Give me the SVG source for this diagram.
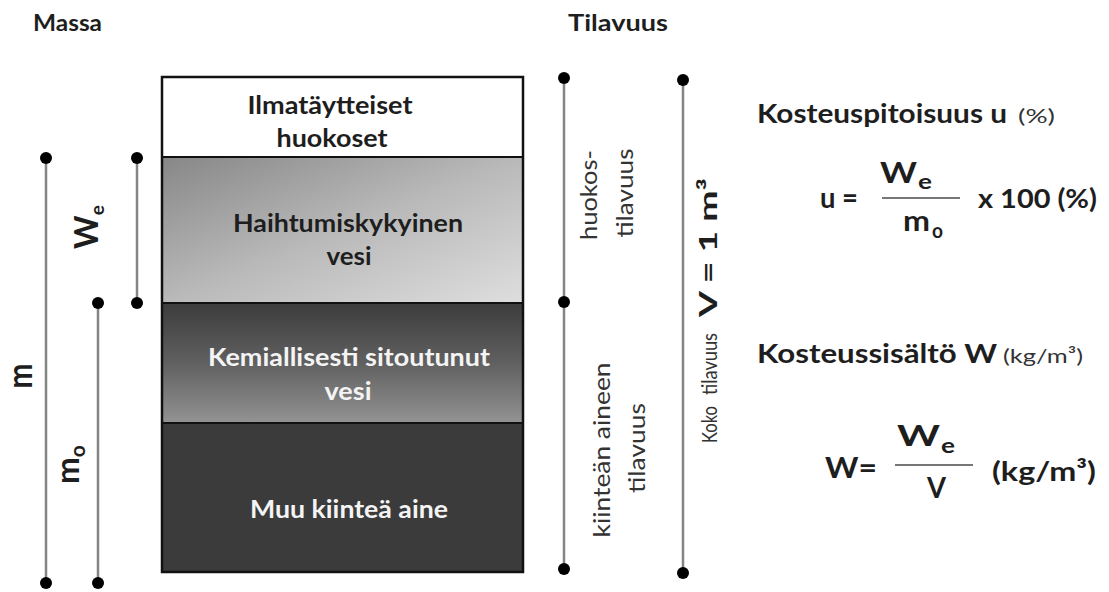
<svg xmlns="http://www.w3.org/2000/svg" width="1109" height="592" viewBox="0 0 1109 592">
<style>
.b{font-family:Lato,"Liberation Sans",sans-serif;font-weight:bold;fill:#1e1e1e}
.r{font-family:Lato,"Liberation Sans",sans-serif;font-weight:normal;fill:#333}
.w{fill:#f4f4f4}
.ln{stroke:#858585;stroke-width:2.5;fill:none}
.dot{fill:#000}
.div{stroke:#111;stroke-width:2}
.fr{stroke:#777;stroke-width:2}
</style>
<defs>
<linearGradient id="gLight" x1="0" y1="0" x2="1" y2="1">
<stop offset="0" stop-color="#878787"/>
<stop offset="0.5" stop-color="#b9b9b9"/>
<stop offset="1" stop-color="#dedede"/>
</linearGradient>
<linearGradient id="gMid" x1="0" y1="0" x2="0" y2="1">
<stop offset="0" stop-color="#3c3c3c"/>
<stop offset="0.5" stop-color="#606060"/>
<stop offset="1" stop-color="#939393"/>
</linearGradient>
</defs>

<text class="b" x="33" y="31" font-size="23" textLength="69" lengthAdjust="spacingAndGlyphs">Massa</text>
<text class="b" x="568" y="31" font-size="23" textLength="100" lengthAdjust="spacingAndGlyphs">Tilavuus</text>

<g id="layers">
<g id="layer-air">
<rect x="162" y="77" width="361" height="80" fill="#ffffff"/>
<text class="b" x="330" y="114" font-size="24" text-anchor="middle" textLength="165" lengthAdjust="spacingAndGlyphs">Ilmatäytteiset</text>
<text class="b" x="332" y="147" font-size="24" text-anchor="middle" textLength="111" lengthAdjust="spacingAndGlyphs">huokoset</text>
</g>
<g id="layer-evap">
<rect x="162" y="157" width="361" height="146" fill="url(#gLight)"/>
<text class="b" x="348" y="232" font-size="24" text-anchor="middle" textLength="230" lengthAdjust="spacingAndGlyphs">Haihtumiskykyinen</text>
<text class="b" x="349" y="265" font-size="24" text-anchor="middle" textLength="45" lengthAdjust="spacingAndGlyphs">vesi</text>
</g>
<g id="layer-chem">
<rect x="162" y="303" width="361" height="120" fill="url(#gMid)"/>
<text class="b w" x="349" y="366" font-size="24" text-anchor="middle" textLength="282" lengthAdjust="spacingAndGlyphs">Kemiallisesti sitoutunut</text>
<text class="b w" x="348" y="400" font-size="24" text-anchor="middle" textLength="47" lengthAdjust="spacingAndGlyphs">vesi</text>
</g>
<g id="layer-solid">
<rect x="162" y="423" width="361" height="149" fill="#3b3b3b"/>
<text class="b w" x="349" y="518" font-size="24" text-anchor="middle" textLength="198" lengthAdjust="spacingAndGlyphs">Muu kiinteä aine</text>
</g>
<line class="div" x1="162" y1="157" x2="523" y2="157"/>
<line class="div" x1="162" y1="303" x2="523" y2="303"/>
<line class="div" x1="162" y1="423" x2="523" y2="423"/>
<rect x="162" y="77" width="361" height="495" fill="none" stroke="#111" stroke-width="2.5"/>
</g>

<g id="connectors">
<line class="ln" x1="46" y1="158" x2="46" y2="583"/>
<line class="ln" x1="137" y1="158" x2="137" y2="303"/>
<line class="ln" x1="98" y1="303" x2="98" y2="583"/>
<line class="ln" x1="564" y1="78" x2="564" y2="569"/>
<line class="ln" x1="683" y1="80" x2="683" y2="573"/>
<circle class="dot" cx="46" cy="158" r="6"/>
<circle class="dot" cx="46" cy="583" r="6"/>
<circle class="dot" cx="137" cy="158" r="6"/>
<circle class="dot" cx="137" cy="303" r="6"/>
<circle class="dot" cx="98" cy="303" r="6"/>
<circle class="dot" cx="98" cy="583" r="6"/>
<circle class="dot" cx="564" cy="78" r="6"/>
<circle class="dot" cx="564" cy="302" r="6"/>
<circle class="dot" cx="564" cy="569" r="6"/>
<circle class="dot" cx="683" cy="80" r="6"/>
<circle class="dot" cx="683" cy="573" r="6"/>
</g>

<g id="mass-labels">
<text class="b" transform="translate(32,376) rotate(-90)" font-size="34" text-anchor="middle" textLength="25" lengthAdjust="spacingAndGlyphs">m</text>
<text class="b" transform="translate(79,484) rotate(-90)" font-size="32">m<tspan dy="6" font-size="21">o</tspan></text>
<text class="b" transform="translate(98,249) rotate(-90)" font-size="32">W<tspan dy="6" font-size="19">e</tspan></text>
</g>

<g id="volume-labels">
<text class="r" transform="translate(597,195) rotate(-90)" font-size="24" text-anchor="middle" textLength="90" lengthAdjust="spacingAndGlyphs">huokos-</text>
<text class="r" transform="translate(633,193) rotate(-90)" font-size="24" text-anchor="middle" textLength="89" lengthAdjust="spacingAndGlyphs">tilavuus</text>
<text class="r" transform="translate(610,450) rotate(-90)" font-size="24" text-anchor="middle" textLength="175" lengthAdjust="spacingAndGlyphs">kiinteän aineen</text>
<text class="r" transform="translate(645,448) rotate(-90)" font-size="24" text-anchor="middle" textLength="90" lengthAdjust="spacingAndGlyphs">tilavuus</text>
<text class="r" transform="translate(717,443) rotate(-90)" font-size="21" textLength="37" lengthAdjust="spacingAndGlyphs">Koko</text>
<text class="r" transform="translate(717,395) rotate(-90)" font-size="21" textLength="62" lengthAdjust="spacingAndGlyphs">tilavuus</text>
<text class="b" transform="translate(717,317) rotate(-90)" font-size="24" textLength="139" lengthAdjust="spacingAndGlyphs">V = 1 m³</text>
</g>

<g id="formula-u">
<text class="b" x="757" y="123" font-size="26" textLength="250" lengthAdjust="spacingAndGlyphs">Kosteuspitoisuus u</text>
<text class="r" x="1018" y="123" font-size="19" fill="#555" textLength="37" lengthAdjust="spacingAndGlyphs">(%)</text>
<text class="b" x="820" y="208" font-size="28" textLength="38" lengthAdjust="spacingAndGlyphs">u =</text>
<text class="b" x="880" y="183" font-size="28" textLength="37" lengthAdjust="spacingAndGlyphs">W</text>
<text class="b" x="918" y="189" font-size="20" textLength="14" lengthAdjust="spacingAndGlyphs">e</text>
<line class="fr" x1="882" y1="198" x2="960" y2="198"/>
<text class="b" x="903" y="231" font-size="28" textLength="27" lengthAdjust="spacingAndGlyphs">m</text>
<text class="b" x="932" y="238" font-size="20" textLength="11" lengthAdjust="spacingAndGlyphs">o</text>
<text class="b" x="978" y="208" font-size="27" textLength="119" lengthAdjust="spacingAndGlyphs">x 100 (%)</text>
</g>

<g id="formula-W">
<text class="b" x="757" y="363" font-size="26" textLength="240" lengthAdjust="spacingAndGlyphs">Kosteussisältö W</text>
<text class="r" x="1003" y="363" font-size="20" fill="#444" textLength="80" lengthAdjust="spacingAndGlyphs">(kg/m³)</text>
<text class="b" x="825" y="478" font-size="28" textLength="52" lengthAdjust="spacingAndGlyphs">W=</text>
<text class="b" x="897" y="446" font-size="28" textLength="43" lengthAdjust="spacingAndGlyphs">W</text>
<text class="b" x="941" y="453" font-size="20" textLength="14" lengthAdjust="spacingAndGlyphs">e</text>
<line class="fr" x1="895" y1="465" x2="973" y2="465"/>
<text class="b" x="927" y="498" font-size="28" textLength="19" lengthAdjust="spacingAndGlyphs">V</text>
<text class="b" x="992" y="481" font-size="27" textLength="104" lengthAdjust="spacingAndGlyphs">(kg/m³)</text>
</g>
</svg>
